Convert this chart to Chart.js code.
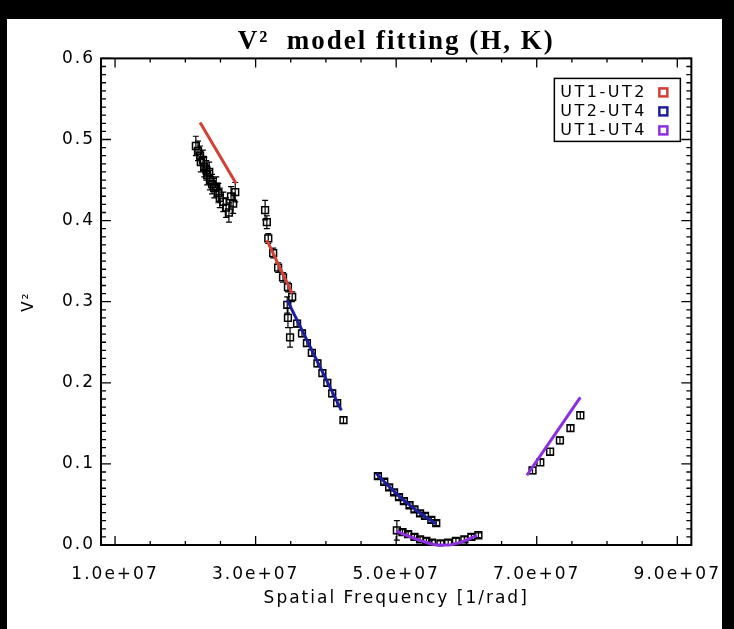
<!DOCTYPE html>
<html lang="en">
<head>
<meta charset="UTF-8">
<title>V² model fitting (H, K)</title>
<script src="https://cdn.jsdelivr.net/npm/chart.js"></script>
<style>
  * { margin: 0; padding: 0; }
  body { background: #000; }
  canvas { display: block; }
</style>
</head>
<body>
<canvas id="vis" width="734" height="629"></canvas>
<script>
const ut12Freq = [2.15e7, 2.18e7, 2.21e7, 2.22e7, 2.25e7, 2.27e7, 2.30e7, 2.31e7, 2.34e7, 2.35e7, 2.38e7,
                  2.41e7, 2.44e7, 2.47e7, 2.49e7, 2.54e7, 2.58e7, 2.62e7, 2.65e7, 2.68e7, 2.71e7,
                  3.135e7, 3.16e7, 3.18e7, 3.25e7, 3.32e7, 3.39e7, 3.46e7, 3.52e7];
const ut12V2   = [0.492, 0.486, 0.480, 0.472, 0.475, 0.466, 0.462, 0.456, 0.460, 0.450, 0.445,
                  0.440, 0.442, 0.434, 0.428, 0.423, 0.416, 0.410, 0.430, 0.421, 0.435,
                  0.413, 0.398, 0.378, 0.360, 0.342, 0.330, 0.318, 0.306];
const ut12Err  = [0.012, 0.012, 0.012, 0.012, 0.012, 0.012, 0.012, 0.012, 0.012, 0.012, 0.012,
                  0.012, 0.012, 0.012, 0.012, 0.012, 0.012, 0.012, 0.012, 0.012, 0.012,
                  0.012, 0.008, 0.006, 0.006, 0.006, 0.006, 0.006, 0.006];

const ut24Freq = [3.45e7, 3.46e7, 3.49e7, 3.59e7, 3.66e7, 3.73e7, 3.80e7, 3.88e7, 3.95e7, 4.02e7, 4.09e7, 4.16e7, 4.25e7,
                  4.74e7, 4.83e7, 4.90e7, 4.97e7, 5.04e7, 5.11e7, 5.19e7, 5.26e7, 5.34e7, 5.41e7, 5.50e7, 5.57e7];
const ut24V2   = [0.296, 0.280, 0.256, 0.273, 0.261, 0.249, 0.237, 0.224, 0.212, 0.200, 0.187, 0.175, 0.154,
                  0.085, 0.078, 0.071, 0.065, 0.059, 0.054, 0.049, 0.044, 0.039, 0.036, 0.031, 0.027];
const ut24Err  = [0.010, 0.012, 0.012, 0.004, 0.004, 0.004, 0.004, 0.004, 0.004, 0.004, 0.004, 0.004, 0.004,
                  0.003, 0.003, 0.003, 0.003, 0.003, 0.003, 0.003, 0.003, 0.003, 0.003, 0.003, 0.003];

const ut14Freq = [5.01e7, 5.09e7, 5.17e7, 5.26e7, 5.34e7, 5.43e7, 5.51e7, 5.63e7, 5.74e7, 5.85e7, 5.97e7, 6.07e7, 6.17e7,
                  6.94e7, 7.05e7, 7.19e7, 7.33e7, 7.48e7, 7.62e7];
const ut14V2   = [0.018, 0.016, 0.0135, 0.010, 0.007, 0.005, 0.003, 0.002, 0.003, 0.005, 0.007, 0.010, 0.012,
                  0.092, 0.102, 0.115, 0.129, 0.144, 0.160];
const ut14Err  = [0.012, 0.003, 0.003, 0.003, 0.003, 0.003, 0.003, 0.003, 0.003, 0.003, 0.003, 0.003, 0.003,
                  0.004, 0.004, 0.004, 0.004, 0.004, 0.004];

// model curves (one array pair per plotted segment)
const ut12ModelAFreq = [2.21e7, 2.72e7];
const ut12ModelAV2   = [0.521, 0.446];
const ut12ModelBFreq = [3.16e7, 3.52e7];
const ut12ModelBV2   = [0.376, 0.310];
const ut24ModelAFreq = [3.45e7, 4.22e7];
const ut24ModelAV2   = [0.302, 0.166];
const ut24ModelBFreq = [4.72e7, 4.90e7, 5.10e7, 5.30e7, 5.57e7];
const ut24ModelBV2   = [0.088, 0.072, 0.056, 0.042, 0.026];
const ut14ModelAFreq = [5.00e7, 5.20e7, 5.40e7, 5.60e7, 5.75e7, 5.90e7, 6.05e7, 6.15e7];
const ut14ModelAV2   = [0.017, 0.010, 0.004, 0.0, 0.0, 0.003, 0.008, 0.012];
const ut14ModelBFreq = [6.86e7, 7.62e7];
const ut14ModelBV2   = [0.086, 0.182];

const xTicks = [1e7, 3e7, 5e7, 7e7, 9e7];
const legendLabels = ['UT1-UT2', 'UT2-UT4', 'UT1-UT4'];
const legendColors = ['#d33f35', '#1b1f9e', '#8e2fe0'];

function pts(xs, ys) {
    return xs.map((v, i) => ({ x: v, y: ys[i] }));
}

function dataSet(label, xs, ys, errs) {
    return {
        label: label,
        data: pts(xs, ys),
        errors: errs,
        showLine: false,
        pointStyle: 'rect',
        pointRadius: 4.8,
        pointBorderWidth: 1.5,
        borderColor: '#000',
        pointBorderColor: '#000',
        pointBackgroundColor: 'rgba(255,255,255,0)',
        order: 1
    };
}

function modelSet(label, xs, ys, color) {
    return {
        label: label,
        data: pts(xs, ys),
        showLine: true,
        borderColor: color,
        borderWidth: 3,
        pointRadius: 0,
        cubicInterpolationMode: 'monotone',
        clip: false,
        order: 0
    };
}

// black frame of the original image
const paper = {
    id: 'paper',
    beforeDraw(chart) {
        const ctx = chart.ctx;
        ctx.save();
        ctx.fillStyle = '#000';
        ctx.fillRect(0, 0, chart.width, chart.height);
        ctx.fillStyle = '#fff';
        ctx.fillRect(7, 19, 715, 610);
        ctx.restore();
        ctx.letterSpacing = '2px';
    }
};

// IDL style box with inward ticks, plus error bars under the points
const idlAxes = {
    id: 'idlAxes',
    beforeDatasetsDraw(chart) {
        const { ctx, chartArea: a, scales: { x, y } } = chart;
        ctx.save();
        ctx.strokeStyle = '#000';
        ctx.lineWidth = 1.3;
        ctx.beginPath();
        for (let v = 1e7; v <= 9e7 + 1; v += 0.5e7) {
            const px = x.getPixelForValue(v);
            const len = xTicks.some(t => Math.abs(t - v) < 1) ? 9 : 4;
            ctx.moveTo(px, a.bottom); ctx.lineTo(px, a.bottom - len);
            ctx.moveTo(px, a.top); ctx.lineTo(px, a.top + len);
        }
        for (let k = 0; k <= 60; k++) {
            const py = y.getPixelForValue(k / 100);
            const len = k % 10 === 0 ? 10 : 5;
            ctx.moveTo(a.left, py); ctx.lineTo(a.left + len, py);
            ctx.moveTo(a.right, py); ctx.lineTo(a.right - len, py);
        }
        ctx.stroke();
        ctx.lineWidth = 2;
        ctx.strokeRect(a.left, a.top, a.right - a.left, a.bottom - a.top);

        ctx.lineWidth = 1.2;
        ctx.beginPath();
        chart.data.datasets.forEach(ds => {
            if (!ds.errors) return;
            ds.data.forEach((p, i) => {
                const px = x.getPixelForValue(p.x);
                const hi = y.getPixelForValue(p.y + ds.errors[i]);
                const lo = y.getPixelForValue(p.y - ds.errors[i]);
                ctx.moveTo(px, hi); ctx.lineTo(px, lo);
                ctx.moveTo(px - 3, hi); ctx.lineTo(px + 3, hi);
                ctx.moveTo(px - 3, lo); ctx.lineTo(px + 3, lo);
            });
        });
        ctx.stroke();
        ctx.restore();
    }
};

// legend box in the upper right corner, coloured squares after the text
const idlLegend = {
    id: 'idlLegend',
    afterDraw(chart) {
        const { ctx, chartArea: a } = chart;
        const bx = a.right - 137, by = a.top + 20;
        ctx.save();
        ctx.letterSpacing = '2.5px';
        ctx.fillStyle = '#fff';
        ctx.fillRect(bx, by, 126, 63);
        ctx.strokeStyle = '#000';
        ctx.lineWidth = 1.5;
        ctx.strokeRect(bx, by, 126, 63);
        ctx.font = '16px "DejaVu Sans"';
        ctx.textBaseline = 'middle';
        legendLabels.forEach((t, i) => {
            const yy = by + 14 + i * 19;
            ctx.fillStyle = '#000';
            ctx.fillText(t, bx + 6, yy);
            ctx.strokeStyle = legendColors[i];
            ctx.lineWidth = 2.5;
            ctx.strokeRect(bx + 105, yy - 4, 8, 8);
        });
        ctx.restore();
    }
};

const tickFont = { family: 'DejaVu Sans', size: 17 };

new Chart(document.getElementById('vis'), {
    type: 'scatter',
    data: {
        datasets: [
            modelSet('UT1-UT2 model', ut12ModelAFreq, ut12ModelAV2, legendColors[0]),
            modelSet('UT1-UT2 model', ut12ModelBFreq, ut12ModelBV2, legendColors[0]),
            modelSet('UT2-UT4 model', ut24ModelAFreq, ut24ModelAV2, legendColors[1]),
            modelSet('UT2-UT4 model', ut24ModelBFreq, ut24ModelBV2, legendColors[1]),
            modelSet('UT1-UT4 model', ut14ModelAFreq, ut14ModelAV2, legendColors[2]),
            modelSet('UT1-UT4 model', ut14ModelBFreq, ut14ModelBV2, legendColors[2]),
            dataSet('UT1-UT2', ut12Freq, ut12V2, ut12Err),
            dataSet('UT2-UT4', ut24Freq, ut24V2, ut24Err),
            dataSet('UT1-UT4', ut14Freq, ut14V2, ut14Err)
        ]
    },
    options: {
        responsive: false,
        animation: false,
        events: [],
        layout: { padding: { left: 0, right: 42, top: 0, bottom: 0 } },
        plugins: {
            legend: { display: false },
            tooltip: { enabled: false },
            title: {
                display: true,
                fullSize: false,
                text: 'V²  model fitting (H, K)',
                color: '#000',
                font: { family: 'Liberation Serif', size: 27, weight: 'bold' },
                padding: { top: 26, bottom: 0 }
            }
        },
        scales: {
            x: {
                type: 'linear',
                position: 'bottom',
                min: 0.8e7,
                max: 9.2e7,
                afterBuildTicks: s => { s.ticks = xTicks.map(v => ({ value: v })); },
                afterFit: s => { s.height = 84; },
                grid: { display: false, drawTicks: false },
                border: { display: false },
                ticks: {
                    color: '#000',
                    font: tickFont,
                    padding: 19,
                    maxRotation: 0,
                    autoSkip: false,
                    callback: v => (v / 1e7).toFixed(1) + 'e+07'
                },
                title: {
                    display: true,
                    text: 'Spatial Frequency [1/rad]',
                    color: '#000',
                    font: { family: 'DejaVu Sans', size: 17 },
                    padding: { top: 0, bottom: 20 }
                }
            },
            y: {
                type: 'linear',
                min: 0,
                max: 0.6,
                afterFit: s => { s.width = 101; },
                grid: { display: false, drawTicks: false },
                border: { display: false },
                ticks: {
                    stepSize: 0.1,
                    color: '#000',
                    font: tickFont,
                    padding: 6,
                    callback: v => v.toFixed(1)
                },
                title: {
                    display: true,
                    text: 'V²',
                    color: '#000',
                    font: { family: 'DejaVu Sans', size: 15 },
                    padding: { top: 20, bottom: 0 }
                }
            }
        }
    },
    plugins: [paper, idlAxes, idlLegend]
});
</script>
</body>
</html>
